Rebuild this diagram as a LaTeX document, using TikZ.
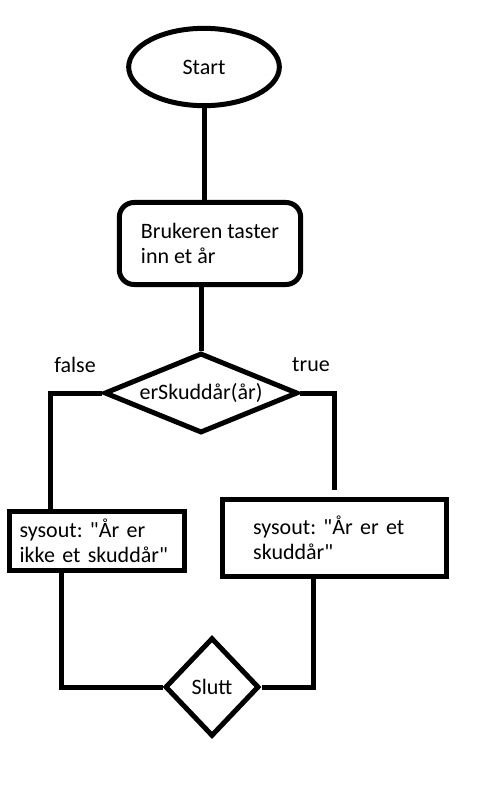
\documentclass[tikz,border=0pt]{standalone}
\usepackage{fontspec}
\setmainfont{Carlito}
\usetikzlibrary{shapes.geometric}
\usetikzlibrary{positioning}
\frenchspacing

\begin{document}
\begin{tikzpicture}[x=0.75pt,y=-0.75pt,line width=3.75pt,
		font=\fontsize{16.5pt}{18.75pt}\selectfont]
		\tikzstyle{every node}=[inner sep=0pt]
		\tikzstyle{terminal}=[draw,ellipse,minimum width=113pt,minimum height=58pt]
		\tikzstyle{inputbox}=[draw,rectangle,rounded corners=11pt,minimum width=136pt,
			minimum height=61.5pt,align=left]
		\tikzstyle{printbox}=[draw,rectangle,align=left]
		\tikzstyle{decision}=[draw,diamond]
		
		\useasboundingbox (0,0) rectangle (488,798);
		
		\node[terminal] (start) at (204,67) {Start};
		\node[inputbox] (input) at (210,243.5) {Brukeren taster\\inn et år};
		\node[decision,aspect=2.5,minimum width=145pt,minimum height=60pt] (test) at (201,393) {erSkuddår(år)};
		\node (false) at (75,365) {false};
		\node (true) at (311,365) {true};
		\node[printbox,text width=116pt,inner xsep=7.5pt,minimum height=44pt] (nei) at (97,541)
			{sysout: \textquotedbl År er\\ikke et skuddår\textquotedbl};
		\node[printbox,text width=122pt,inner xsep=23pt,minimum height=57.75pt] (ja) at (334.5,538)
			{sysout: \textquotedbl År er et\\skuddår\textquotedbl};
		\node[decision,minimum width=70.5pt,minimum height=74pt] (slutt) at (212,687) {Slutt};
		
		\draw (start) -- (start |- input.north);
		\draw (test.north |- input.south) -- (test.north);
		\draw (test.west) -| ([xshift=-35pt]nei.north);
		\draw[shorten >=5pt] (test.east) -| (ja.north);
		\draw ([xshift=-27pt]nei.south) |- (slutt.west);
		\draw ([xshift=-15.4pt]ja.south) |- (slutt.east);
	\end{tikzpicture}
\end{document}
